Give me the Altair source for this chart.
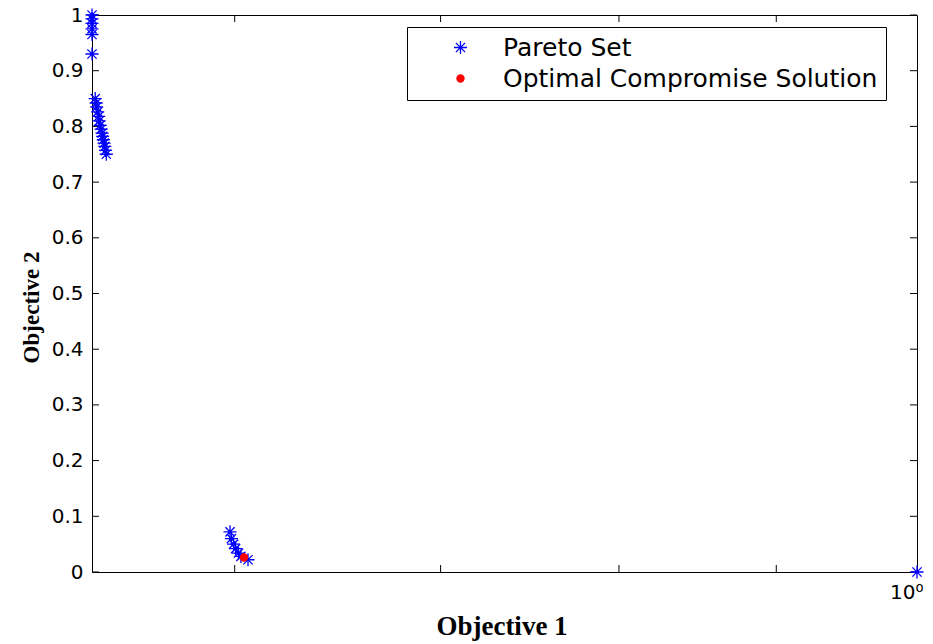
import altair as alt
import pandas as pd

# ---- data ----
pareto_x = [0.5392, 0.5392, 0.5392, 0.5392, 0.5392, 0.5392,
            0.5405, 0.5409, 0.5411, 0.5415, 0.5419, 0.5421, 0.5425, 0.5429,
            0.5433, 0.5435, 0.5438, 0.5441, 0.5444, 0.5447, 0.5450,
            0.5979, 0.5985, 0.5995, 0.6004, 0.6017, 0.6028, 0.6060,
            1.0]
pareto_y = [1.0, 0.993, 0.985, 0.975, 0.965, 0.93,
            0.85, 0.842, 0.835, 0.826, 0.818, 0.81, 0.802, 0.795,
            0.788, 0.782, 0.776, 0.77, 0.764, 0.757, 0.75,
            0.072, 0.060, 0.050, 0.042, 0.034, 0.028, 0.022,
            0.0]
optimal_x = [0.6042]
optimal_y = [0.026]

series_names = ["Pareto Set", "Optimal Compromise Solution"]
series_colors = ["#0000ff", "#ff0000"]

x_tick_values = [0.6, 0.7, 0.8, 0.9]
y_tick_values = [0, 0.1, 0.2, 0.3, 0.4, 0.5, 0.6, 0.7, 0.8, 0.9, 1.0]
x_domain = [0.5392, 1.0]
y_domain = [0, 1]

STAR = "M-1.85,0L1.85,0M0,-1.85L0,1.85M-1.3,-1.3L1.3,1.3M-1.3,1.3L1.3,-1.3"

pts = pd.DataFrame({
    "x": pareto_x + optimal_x,
    "y": pareto_y + optimal_y,
    "series": [series_names[0]] * len(pareto_x) + [series_names[1]] * len(optimal_x),
})
xt = pd.DataFrame({"v": x_tick_values})
yt = pd.DataFrame({"v": y_tick_values})

W, H = 825, 557

xscale = alt.Scale(type="log", domain=x_domain, nice=False)
yscale = alt.Scale(domain=y_domain, nice=False, zero=False)

xaxis = alt.Axis(
    title="Objective 1", values=[1], labelExpr="'10⁰'",
    labelAlign="right", labelFlush=False, labelPadding=10, labelOffset=6,
    tickSize=0, ticks=False, grid=False, domain=False,
    labelFont="DejaVu Sans", labelFontSize=20, labelColor="black",
    titleFont="Liberation Serif", titleFontWeight="bold", titleFontSize=27,
    titleColor="black", titleBaseline="alphabetic", titleY=62, titleX=W / 2 - 3,
)
yaxis = alt.Axis(
    title="Objective 2", values=y_tick_values, format="~g",
    tickSize=0, ticks=False, grid=False, domain=False, labelPadding=9,
    labelFont="DejaVu Sans", labelFontSize=20, labelColor="black",
    titleFont="Liberation Serif", titleFontWeight="bold", titleFontSize=23,
    titleColor="black", titleBaseline="bottom", titleX=-49, titleY=292,
    titleAngle=270,
)

legend = alt.Legend(
    title=None, orient="none", legendX=315, legendY=12,
    strokeColor="black", fillColor="white", padding=8,
    labelFont="DejaVu Sans", labelFontSize=25, labelColor="black",
    labelLimit=600,
    symbolOffset=33, labelOffset=30, rowPadding=5, symbolSize=50,
    symbolStrokeWidth=1.3,
)

points = alt.Chart(pts).mark_point(opacity=1, strokeWidth=1.3, size=50).encode(
    x=alt.X("x:Q", scale=xscale, axis=xaxis),
    y=alt.Y("y:Q", scale=yscale, axis=yaxis),
    shape=alt.Shape("series:N", scale=alt.Scale(domain=series_names, range=[STAR, "circle"]), legend=legend),
    stroke=alt.Stroke("series:N", scale=alt.Scale(domain=series_names, range=series_colors), legend=legend),
    fill=alt.Fill("series:N", scale=alt.Scale(domain=series_names, range=series_colors), legend=legend),
)

tick_len = 7
y_left = alt.Chart(yt).mark_rule(color="black", strokeWidth=1).encode(
    y=alt.Y("v:Q", scale=yscale, axis=yaxis), x=alt.value(0), x2=alt.value(tick_len))
y_right = alt.Chart(yt).mark_rule(color="black", strokeWidth=1).encode(
    y=alt.Y("v:Q", scale=yscale, axis=yaxis), x=alt.value(W - tick_len), x2=alt.value(W))
x_bottom = alt.Chart(xt).mark_rule(color="black", strokeWidth=1).encode(
    x=alt.X("v:Q", scale=xscale, axis=xaxis), y=alt.value(H - tick_len), y2=alt.value(H))
x_top = alt.Chart(xt).mark_rule(color="black", strokeWidth=1).encode(
    x=alt.X("v:Q", scale=xscale, axis=xaxis), y=alt.value(0), y2=alt.value(tick_len))

chart = alt.layer(y_left, y_right, x_bottom, x_top, points).properties(
    width=W, height=H,
    padding={"left": 92, "top": 15, "right": 16, "bottom": 72},
    autosize=alt.AutoSizeParams(type="none"),
    background="white",
).configure_view(stroke="black", strokeWidth=1)

chart.save("out.html", embed_options={"renderer": "svg", "actions": False})
